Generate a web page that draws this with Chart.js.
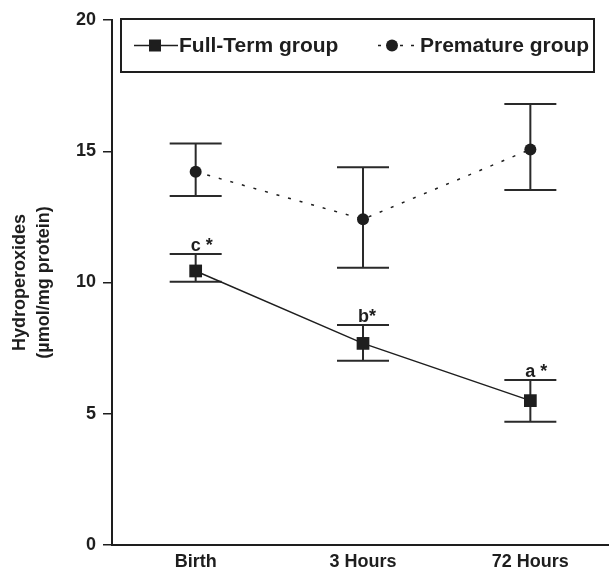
<!DOCTYPE html>
<html>
<head>
<meta charset="utf-8">
<script src="https://cdn.jsdelivr.net/npm/chart.js@4.4.1/dist/chart.umd.min.js"></script>
<style>
  html, body { margin: 0; padding: 0; background: #fff; }
  #wrap { width: 609px; height: 573px; }
</style>
</head>
<body>
<div id="wrap"><canvas id="grafico"></canvas></div>
<script>
const categories = ['Birth', '3 Hours', '72 Hours'];

const fullTermMean = [10.44, 7.68, 5.50];
const fullTermUpper = [11.09, 8.38, 6.29];
const fullTermLower = [10.03, 7.02, 4.70];
const fullTermLetters = ['c *', 'b*', 'a *'];

const prematureMean = [14.22, 12.41, 15.07];
const prematureUpper = [15.30, 14.39, 16.80];
const prematureLower = [13.30, 10.56, 13.52];

const yTicks = [0, 5, 10, 15, 20];

const ink = '#1e1e1e';
const fontName = '"Liberation Sans", Arial, Helvetica, sans-serif';

// error bars drawn under the markers
const errorBars = {
  id: 'errorBars',
  beforeDatasetsDraw(chart) {
    const { ctx, scales: { x, y } } = chart;
    ctx.save();
    ctx.strokeStyle = '#2a2a2a';
    ctx.lineWidth = 2;
    chart.data.datasets.forEach(ds => {
      ds.data.forEach((p, i) => {
        const px = x.getPixelForValue(p.x);
        const top = y.getPixelForValue(ds.upper[i]);
        const bot = y.getPixelForValue(ds.lower[i]);
        ctx.beginPath();
        ctx.moveTo(px, top); ctx.lineTo(px, bot);
        ctx.moveTo(px - 26, top); ctx.lineTo(px + 26, top);
        ctx.moveTo(px - 26, bot); ctx.lineTo(px + 26, bot);
        ctx.stroke();
      });
    });
    ctx.restore();
  },
  afterDatasetsDraw(chart) {
    // significance letters over the full-term caps
    const { ctx, scales: { x, y } } = chart;
    const ds = chart.data.datasets[0];
    ctx.save();
    ctx.fillStyle = ink;
    ctx.font = 'bold 18px ' + fontName;
    ctx.textAlign = 'left';
    ctx.textBaseline = 'alphabetic';
    ds.data.forEach((p, i) => {
      const px = x.getPixelForValue(p.x);
      const top = y.getPixelForValue(ds.upper[i]);
      ctx.fillText(ds.letters[i], px - 5, top - 3);
    });
    ctx.restore();
  }
};

// boxed legend inside the plot, top
const boxLegend = {
  id: 'boxLegend',
  afterDraw(chart) {
    const { ctx, chartArea } = chart;
    const left = chartArea.left + 9, top = chartArea.top - 1;
    const w = 473, h = 53;
    const cy = top + h / 2;
    ctx.save();
    ctx.strokeStyle = ink;
    ctx.lineWidth = 2;
    ctx.strokeRect(left, top, w, h);

    const ds = chart.data.datasets;
    ctx.font = 'bold 21px ' + fontName;
    ctx.fillStyle = ink;
    ctx.textBaseline = 'middle';

    // full-term sample
    let sx = left + 13;
    ctx.lineWidth = 1.5;
    ctx.beginPath();
    ctx.moveTo(sx, cy); ctx.lineTo(sx + 44, cy);
    ctx.stroke();
    ctx.fillRect(sx + 15, cy - 6, 12, 12);
    ctx.fillText(ds[0].label, sx + 45, cy + 1);

    // premature sample
    sx = left + 257;
    ctx.setLineDash([3, 8]);
    ctx.beginPath();
    ctx.moveTo(sx, cy); ctx.lineTo(sx + 36, cy);
    ctx.stroke();
    ctx.setLineDash([]);
    ctx.beginPath();
    ctx.arc(sx + 14, cy, 6, 0, Math.PI * 2);
    ctx.fill();
    ctx.fillText(ds[1].label, sx + 42, cy + 1);
    ctx.restore();
  }
};

new Chart(document.getElementById('grafico'), {
  type: 'line',
  data: {
    datasets: [
      {
        label: 'Full-Term group',
        data: fullTermMean.map((v, i) => ({ x: i, y: v })),
        upper: fullTermUpper,
        lower: fullTermLower,
        letters: fullTermLetters,
        borderColor: ink,
        borderWidth: 1.5,
        pointStyle: 'rect',
        pointRadius: 9,
        pointBackgroundColor: ink,
        pointBorderColor: ink,
        pointBorderWidth: 0,
        tension: 0
      },
      {
        label: 'Premature group',
        data: prematureMean.map((v, i) => ({ x: i, y: v })),
        upper: prematureUpper,
        lower: prematureLower,
        borderColor: ink,
        borderWidth: 1.5,
        borderDash: [3, 9],
        pointStyle: 'circle',
        pointRadius: 6,
        pointBackgroundColor: ink,
        pointBorderColor: ink,
        pointBorderWidth: 0,
        tension: 0
      }
    ]
  },
  options: {
    responsive: true,
    maintainAspectRatio: false,
    animation: false,
    layout: { autoPadding: false, padding: { top: 20, right: 0, left: 0, bottom: 0 } },
    plugins: {
      legend: { display: false },
      tooltip: { enabled: false }
    },
    scales: {
      x: {
        type: 'linear',
        min: -0.5,
        max: 2.47,
        afterBuildTicks: scale => { scale.ticks = categories.map((c, i) => ({ value: i })); },
        afterFit: scale => { scale.height = 28; scale.paddingLeft = 0; scale.paddingRight = 0; },
        grid: { drawOnChartArea: false, drawTicks: false },
        border: { display: true, color: ink, width: 2 },
        ticks: {
          padding: 6,
          color: ink,
          font: { family: fontName, size: 18, weight: 'bold' },
          callback: v => categories[v]
        }
      },
      y: {
        min: 0,
        max: 20,
        afterBuildTicks: scale => { scale.ticks = yTicks.map(v => ({ value: v })); },
        afterFit: scale => { scale.width = 112; scale.paddingTop = 0; scale.paddingBottom = 0; },
        grid: { drawOnChartArea: false, drawTicks: true, tickLength: 9, color: ink, lineWidth: 1.5 },
        border: { display: true, color: ink, width: 2 },
        ticks: {
          padding: 7,
          color: ink,
          font: { family: fontName, size: 18, weight: 'bold' }
        },
        title: {
          display: true,
          text: ['Hydroperoxides', '(µmol/mg protein)'],
          color: ink,
          padding: { top: 8 },
          font: { family: fontName, size: 18, weight: 'bold', lineHeight: 1.35 }
        }
      }
    }
  },
  plugins: [errorBars, boxLegend]
});
</script>
</body>
</html>
